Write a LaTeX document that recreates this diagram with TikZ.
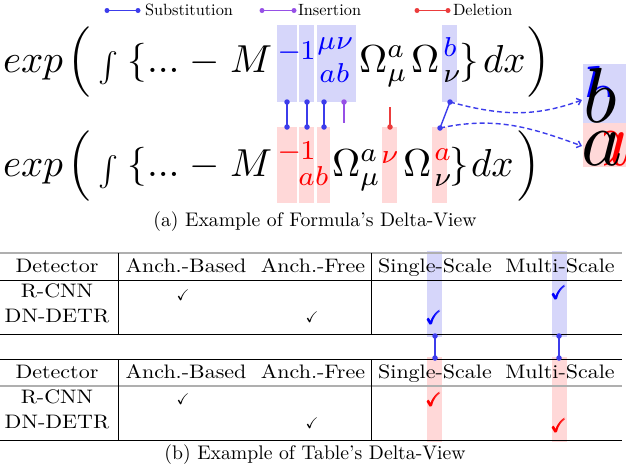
\RequirePackage{fix-cm}
\documentclass[tikz,border=0pt]{standalone}
\usepackage{amsmath,amssymb}
\usepackage{graphicx}
\usetikzlibrary{arrows.meta}
\definecolor{subc}{RGB}{60,60,235}
\definecolor{insc}{RGB}{150,80,230}
\definecolor{delc}{RGB}{235,60,60}
\definecolor{bbox}{RGB}{214,214,250}
\definecolor{rbox}{RGB}{255,216,216}
\definecolor{rulegray}{RGB}{175,175,175}
\definecolor{tblue}{RGB}{0,0,255}
\definecolor{tred}{RGB}{255,0,0}
\newcommand{\fm}[1]{\scalebox{3.9}{$#1$}}
\newcommand{\fms}[1]{\scalebox{3.9}{$\scriptstyle #1$}}
\newcommand{\tcell}[1]{\scalebox{2.2}[1.95]{#1}}
\newcommand{\captx}[1]{\scalebox{1.97}{#1}}
\newcommand{\lgd}[1]{\scalebox{1.63}{#1}}
\newcommand{\ck}{\scalebox{1.55}{$\checkmark$}}
\newcommand{\cck}{\scalebox{1.9}{$\pmb{\checkmark}$}}
\begin{document}
\begin{tikzpicture}[x=1pt,y=-1pt,
  every node/.style={inner sep=0pt,outer sep=0pt},
  fp/.style={anchor=base west},
  cell/.style={anchor=base},
  conn/.style={line width=1.4pt},
  dotc/.style={circle,fill,minimum size=5.5pt,inner sep=0pt},
  hrule/.style={line width=0.8pt},
  grule/.style={rulegray,line width=2pt},
  dasharrow/.style={subc,dash pattern=on 5pt off 3pt,line width=1.4pt,-{Straight Barb[length=4pt,width=7pt]}}
]
\useasboundingbox (0,0) rectangle (626,472);

% ---------- highlight boxes (formula) ----------
\fill[bbox] (277,25) rectangle (297,102);
\fill[bbox] (299,25) rectangle (314,102);
\fill[bbox] (317,25) rectangle (356,102);
\fill[bbox] (442,25) rectangle (457,102);
\fill[rbox] (277,127) rectangle (297,203);
\fill[rbox] (299,127) rectangle (314,203);
\fill[rbox] (317,127) rectangle (330,203);
\fill[rbox] (382,127) rectangle (397,203);
\fill[rbox] (432,127) rectangle (447,203);
\fill[bbox] (583,64) rectangle (626,123);
\fill[rbox] (583,123) rectangle (626,167);

% ---------- highlight boxes (tables) ----------
\fill[bbox] (427,251) rectangle (442,337);
\fill[bbox] (552,251) rectangle (567,337);
\fill[rbox] (427,357) rectangle (442,442);
\fill[rbox] (552,357) rectangle (567,442);

% ---------- legend ----------
\coordinate (la1) at (107,10.5); \coordinate (la2) at (138,10.5);
\coordinate (lb1) at (262,10.5); \coordinate (lb2) at (294,10.5);
\coordinate (lc1) at (417,10.5); \coordinate (lc2) at (448,10.5);
\draw[subc,conn] (la1) -- (la2);
\draw[insc,conn] (lb1) -- (lb2);
\draw[delc,conn] (lc1) -- (lc2);
\foreach \p/\c in {la1/subc,la2/subc,lb1/insc,lb2/insc,lc1/delc,lc2/delc}
  \node[dotc,fill=\c,minimum size=5pt] at (\p) {};
\node[fp] (lsub) at (145,15) {\lgd{Substitution}};
\node[fp] (lins) at (298,15) {\lgd{Insertion}};
\node[fp] (ldel) at (453,15) {\lgd{Deletion}};

% ---------- formula 1 ----------
\node[fp] (fa1) at (3,72) {\fm{exp}};
\node[fp] (fa2) at (67,72) {\fm{\Big(}};
\node (fa3) at (108,68.5) {\scalebox{3.0}{$\int$}};
\node[fp] (fa4) at (127,72) {\fm{\{}};
\node[fp] (fa5) at (147,72) {\fm{...}};
\node[fp] (fa6) at (189,72) {\fm{-}};
\node[fp] (fa7) at (230,72) {\fm{M}};
\node[fp,text=tblue] (fa8) at (277,59) {\fms{-}};
\node[fp,text=tblue] (fa9) at (300,59) {\fms{1}};
\node[fp,text=tblue] (fa10) at (317,49) {\fms{\mu\nu}};
\node[fp,text=tblue] (fa11) at (319,82) {\fms{ab}};
\node[fp] (fa12) at (359,72) {\fm{\Omega^a_\mu}};
\node[fp] (fa13) at (411,72) {\fm{\Omega}};
\node[fp,text=tblue] (fa14) at (443,56) {\fms{b}};
\node[fp] (fa15) at (443,82) {\fms{\nu}};
\node[fp] (fa16) at (459,72) {\fm{\}}};
\node[fp] (fa17) at (483,72) {\fm{dx}};
\node[fp] (fa18) at (527,72) {\fm{\Big)}};

% ---------- formula 2 ----------
\node[fp] (fb1) at (3,176) {\fm{exp}};
\node[fp] (fb2) at (67,176) {\fm{\Big(}};
\node (fb3) at (108,172.5) {\scalebox{3.0}{$\int$}};
\node[fp] (fb4) at (127,176) {\fm{\{}};
\node[fp] (fb5) at (147,176) {\fm{...}};
\node[fp] (fb6) at (189,176) {\fm{-}};
\node[fp] (fb7) at (230,176) {\fm{M}};
\node[fp,text=tred] (fb8) at (277,159) {\fms{-}};
\node[fp,text=tred] (fb9) at (300,159) {\fms{1}};
\node[fp,text=tred] (fb10) at (298,185) {\fms{ab}};
\node[fp] (fb11) at (332,176) {\fm{\Omega^a_\mu}};
\node[fp,text=tred] (fb12) at (381,163) {\fms{\nu}};
\node[fp] (fb13) at (403,176) {\fm{\Omega}};
\node[fp,text=tred] (fb14) at (434,160) {\fms{a}};
\node[fp] (fb15) at (434,186) {\fms{\nu}};
\node[fp] (fb16) at (449,176) {\fm{\}}};
\node[fp] (fb17) at (471,176) {\fm{dx}};
\node[fp] (fb18) at (517,176) {\fm{\Big)}};

% ---------- big overlaid letters ----------
\begin{scope}
\clip (583,60) rectangle (626,96);
\node[fp,text=tblue] (bb) at (581,120) {\scalebox{7.8}{$b$}};
\end{scope}
\node[fp] (bk) at (583,122) {\scalebox{7.8}{$b$}};
\begin{scope}
\clip (604,124) rectangle (626,170);
\node[fp,text=tred] (ar) at (589,165) {\scalebox{7.8}{$a$}};
\end{scope}
\node[fp] (ak) at (581,165) {\scalebox{7.8}{$a$}};

% ---------- formula connectors ----------
\coordinate (ct1) at (287,102); \coordinate (cb1) at (287,127);
\coordinate (ct2) at (307,102); \coordinate (cb2) at (307,127);
\coordinate (ct3) at (324,102); \coordinate (cb3) at (324,127);
\coordinate (ct4) at (344,102); \coordinate (ce4) at (344,123);
\coordinate (cs5) at (390,107); \coordinate (cb5) at (390,127);
\coordinate (ct6) at (450,102); \coordinate (cb6) at (440,128);
\coordinate (tb) at (582,100); \coordinate (ta) at (582,146);
\foreach \i in {1,2,3} {\draw[subc,conn] (ct\i) -- (cb\i);
  \node[dotc,fill=subc] at (ct\i) {}; \node[dotc,fill=subc] at (cb\i) {};}
\draw[insc,conn] (ct4) -- (ce4); \node[dotc,fill=insc] at (ct4) {};
\draw[delc,conn] (cs5) -- (cb5); \node[dotc,fill=delc] at (cb5) {};
\draw[subc,conn] (ct6) -- (cb6);
\node[dotc,fill=subc] at (ct6) {}; \node[dotc,fill=subc] at (cb6) {};
\draw[dasharrow] (ct6) to[out=-15,in=200] (tb);
\draw[dasharrow] (cb6) to[out=12,in=160] (ta);

\node[cell] (capa) at (315,226) {\captx{(a) Example of Formula's Delta-View}};

% ---------- table 1 ----------
\draw[grule] (0,253) -- (622,253);
\draw[hrule] (0,280) -- (622,280);
\draw[hrule] (0,334) -- (622,334);
\draw[hrule] (118,253) -- (118,334);
\draw[hrule] (371,253) -- (371,334);
\node[cell] (h1a) at (57,272) {\tcell{Detector}};
\node[cell] (h1b) at (186,272) {\tcell{Anch.-Based}};
\node[cell] (h1c) at (313,272) {\tcell{Anch.-Free}};
\node[cell] (h1d) at (435,272) {\tcell{Single-Scale}};
\node[cell] (h1e) at (560,272) {\tcell{Multi-Scale}};
\node[cell] (r1a) at (57,297) {\tcell{R-CNN}};
\node[cell] (r1b) at (57,322) {\tcell{DN-DETR}};
\node[cell] (k1a) at (183,300) {\ck};
\node[cell] (k1b) at (312,322) {\ck};
\node[cell,text=tblue] (k1c) at (434,324) {\cck};
\node[cell,text=tblue] (k1d) at (559,299) {\cck};

% ---------- table 2 ----------
\draw[hrule] (0,359) -- (622,359);
\draw[grule] (0,386) -- (622,386);
\draw[hrule] (0,440) -- (622,440);
\draw[hrule] (118,359) -- (118,440);
\draw[hrule] (371,359) -- (371,440);
\node[cell] (h2a) at (57,378) {\tcell{Detector}};
\node[cell] (h2b) at (186,378) {\tcell{Anch.-Based}};
\node[cell] (h2c) at (313,378) {\tcell{Anch.-Free}};
\node[cell] (h2d) at (435,378) {\tcell{Single-Scale}};
\node[cell] (h2e) at (560,378) {\tcell{Multi-Scale}};
\node[cell] (r2a) at (57,403) {\tcell{R-CNN}};
\node[cell] (r2b) at (57,428) {\tcell{DN-DETR}};
\node[cell] (k2a) at (183,404) {\ck};
\node[cell] (k2b) at (312,428) {\ck};
\node[cell,text=tred] (k2c) at (434,406) {\cck};
\node[cell,text=tred] (k2d) at (559,432) {\cck};

% ---------- table connectors ----------
\coordinate (tt1) at (435,336); \coordinate (tu1) at (435,358);
\coordinate (tt2) at (559,336); \coordinate (tu2) at (559,358);
\foreach \i in {1,2} {\draw[subc,conn] (tt\i) -- (tu\i);
  \node[dotc,fill=subc] at (tt\i) {}; \node[dotc,fill=subc] at (tu\i) {};}

\node[cell] (capb) at (315,459) {\captx{(b) Example of Table's Delta-View}};
\end{tikzpicture}
\end{document}
